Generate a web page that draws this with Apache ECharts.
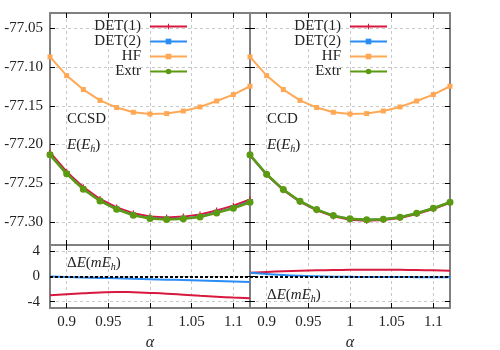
<!DOCTYPE html>
<html>
<head>
<meta charset="utf-8">
<script src="https://cdn.jsdelivr.net/npm/echarts@6/dist/echarts.min.js"></script>
<style>
  html, body { margin: 0; padding: 0; background: #fff; }
  #chart { width: 500px; height: 350px; }
</style>
</head>
<body>
<div id="chart"></div>
<script>
// alpha grid
const alpha = [0.88, 0.90, 0.92, 0.94, 0.96, 0.98, 1.00, 1.02, 1.04, 1.06, 1.08, 1.10, 1.12]
const xTicks = [0.9, 0.95, 1, 1.05, 1.1]
const eTicks = [-77.05, -77.10, -77.15, -77.20, -77.25, -77.30]
const dTicks = [-4, 0, 4]

// CCSD (left)
const ccsdHF = [-77.0868, -77.1110, -77.1290, -77.1430, -77.1523, -77.1584, -77.1606, -77.1601, -77.1567, -77.1515, -77.1438, -77.1355, -77.1247]
const ccsdExtr = [-77.2134, -77.2380, -77.2579, -77.2730, -77.2838, -77.2915, -77.2958, -77.2970, -77.2962, -77.2937, -77.2885, -77.2825, -77.2747]
const ccsdDet1 = [-77.2104, -77.2352, -77.2552, -77.2705, -77.2814, -77.2890, -77.2932, -77.2943, -77.2933, -77.2906, -77.2853, -77.2791, -77.2712]
const ccsdDet2 = [-77.2134, -77.2379, -77.2577, -77.2728, -77.2835, -77.2911, -77.2954, -77.2965, -77.2956, -77.2931, -77.2878, -77.2817, -77.2738]
const ccsdD1 = [-2.96, -2.80, -2.65, -2.52, -2.45, -2.50, -2.60, -2.72, -2.88, -3.05, -3.20, -3.35, -3.47]
const ccsdD2 = [0.0, -0.08, -0.15, -0.22, -0.29, -0.36, -0.43, -0.50, -0.57, -0.64, -0.71, -0.79, -0.88]

// CCD (right)
const ccdHF = [-77.0868, -77.1110, -77.1290, -77.1430, -77.1523, -77.1584, -77.1606, -77.1601, -77.1567, -77.1515, -77.1438, -77.1355, -77.1247]
const ccdExtr = [-77.2134, -77.2385, -77.2583, -77.2734, -77.2842, -77.2920, -77.2962, -77.2975, -77.2967, -77.2941, -77.2890, -77.2825, -77.2747]
const ccdDet1 = [-77.2140, -77.2392, -77.2591, -77.2743, -77.2852, -77.2930, -77.2973, -77.2986, -77.2978, -77.2952, -77.2900, -77.2835, -77.2756]
const ccdDet2 = [-77.2140, -77.2389, -77.2585, -77.2735, -77.2842, -77.2920, -77.2962, -77.2974, -77.2966, -77.2940, -77.2889, -77.2824, -77.2746]
const ccdD1 = [0.58, 0.72, 0.83, 0.92, 0.98, 1.03, 1.06, 1.08, 1.08, 1.06, 1.03, 0.98, 0.93]
const ccdD2 = [0.58, 0.40, 0.22, 0.10, 0.03, -0.02, -0.05, -0.07, -0.08, -0.09, -0.10, -0.10, -0.10]

const RED = '#d8183f'
const BLUE = '#2a8cf5'
const ORANGE = '#ffa957'
const GREEN = '#5c9a12'
const FONT = '"Liberation Serif", "DejaVu Serif", serif'
const FRAME = '#808080'

const pairs = (ys) => alpha.map((a, i) => [a, ys[i]])

const chart = echarts.init(document.getElementById('chart'))

const grids = [
  { left: 50, top: 13, width: 200, height: 232, outerBoundsMode: 'none' },
  { left: 250, top: 13, width: 200, height: 232, outerBoundsMode: 'none' },
  { left: 50, top: 245, width: 200, height: 63, outerBoundsMode: 'none' },
  { left: 250, top: 245, width: 200, height: 63, outerBoundsMode: 'none' }
]

const axisLine = { show: true, onZero: false, lineStyle: { color: FRAME, width: 2 } }
const tick = (vals) => ({ show: true, inside: true, length: 5, customValues: vals, lineStyle: { color: '#000', width: 1 } })
const grid = { show: true, lineStyle: { color: '#c8c8c8', type: [3, 3], width: 1 } }

const xAxis = []
const yAxis = []
grids.forEach((g, i) => {
  const bottomRow = i >= 2
  // bottom x
  xAxis.push({
    type: 'value', gridIndex: i, min: 0.88, max: 1.12, position: 'bottom',
    axisLine, axisTick: tick(xTicks), splitLine: grid,
    axisLabel: {
      show: bottomRow, customValues: xTicks, margin: 7,
      fontFamily: FONT, fontSize: 15, color: '#222',
      formatter: (v) => String(+v.toFixed(2))
    },
    name: bottomRow ? 'α' : '', nameLocation: 'middle', nameGap: 27,
    nameTextStyle: { fontFamily: FONT, fontSize: 16, fontStyle: 'italic', color: '#222' }
  })
  // top x mirror
  xAxis.push({
    type: 'value', gridIndex: i, min: 0.88, max: 1.12, position: 'top',
    axisLine, axisTick: tick(xTicks), splitLine: { show: false }, axisLabel: { show: false }
  })
  const isE = !bottomRow
  const vals = isE ? eTicks : dTicks
  yAxis.push({
    type: 'value', gridIndex: i, position: 'left',
    min: isE ? -77.33 : -5, max: isE ? -77.03 : 5,
    axisLine, axisTick: tick(vals), splitLine: grid,
    axisLabel: {
      show: i % 2 === 0, customValues: vals, margin: isE ? 7 : 10,
      fontFamily: FONT, fontSize: 15, color: '#222',
      formatter: (v) => isE ? v.toFixed(2) : String(Math.round(v))
    }
  })
  yAxis.push({
    type: 'value', gridIndex: i, position: 'right',
    min: isE ? -77.33 : -5, max: isE ? -77.03 : 5,
    axisLine, axisTick: tick(vals), splitLine: { show: false }, axisLabel: { show: false }
  })
})

const energySeries = (gi, det1, det2, hf, extr) => [
  {
    name: 'DET(1)', type: 'line', xAxisIndex: 2 * gi, yAxisIndex: 2 * gi, data: pairs(det1),
    color: RED, lineStyle: { width: 2 }, symbol: 'path://M4,0H6V4H10V6H6V10H4V6H0V4H4Z', symbolSize: 6, z: 3
  },
  {
    name: 'DET(2)', type: 'line', xAxisIndex: 2 * gi, yAxisIndex: 2 * gi, data: pairs(det2),
    color: BLUE, lineStyle: { width: 2 }, symbol: 'rect', symbolSize: 5, z: 3
  },
  {
    name: 'HF', type: 'line', xAxisIndex: 2 * gi, yAxisIndex: 2 * gi, data: pairs(hf),
    color: ORANGE, lineStyle: { width: 2 }, symbol: 'rect', symbolSize: 5, z: 3
  },
  {
    name: 'Extr', type: 'line', xAxisIndex: 2 * gi, yAxisIndex: 2 * gi, data: pairs(extr),
    color: GREEN, lineStyle: { width: 2.5 }, symbol: 'circle', symbolSize: 7, z: 4
  }
]

const deltaSeries = (gi, d1, d2) => [
  {
    name: 'DET(1)', type: 'line', xAxisIndex: 2 * gi, yAxisIndex: 2 * gi, data: pairs(d1),
    color: RED, lineStyle: { width: 2 }, showSymbol: false, smooth: true, z: 3
  },
  {
    name: 'DET(2)', type: 'line', xAxisIndex: 2 * gi, yAxisIndex: 2 * gi, data: pairs(d2),
    color: BLUE, lineStyle: { width: 2 }, showSymbol: false, smooth: true, z: 3,
    markLine: {
      silent: true, symbol: 'none', label: { show: false },
      lineStyle: { color: '#000', type: [3, 2], width: 2 },
      data: [{ yAxis: 0 }]
    }
  }
]

const series = [].concat(
  energySeries(0, ccsdDet1, ccsdDet2, ccsdHF, ccsdExtr),
  energySeries(1, ccdDet1, ccdDet2, ccdHF, ccdExtr),
  deltaSeries(2, ccsdD1, ccsdD2),
  deltaSeries(3, ccdD1, ccdD2)
)

const legend = (right) => ({
  orient: 'vertical', align: 'right', right, top: 14,
  itemWidth: 37, itemHeight: 7, itemGap: 0,
  data: ['DET(1)', 'DET(2)', 'HF', 'Extr'],
  selectedMode: false,
  textStyle: { fontFamily: FONT, fontSize: 15, lineHeight: 14.3, color: '#222', padding: [0, 4, 0, 0] }
})

const rich = {
  r: { fontFamily: FONT, fontSize: 15, color: '#222', lineHeight: 18 },
  i: { fontFamily: FONT, fontSize: 15, fontStyle: 'italic', color: '#222', lineHeight: 18 },
  s: { fontFamily: FONT, fontSize: 10, fontStyle: 'italic', color: '#222', lineHeight: 8, verticalAlign: 'bottom' }
}
const label = (x, y, text) => ({
  type: 'text', left: x, top: y, z: 10,
  style: { text, rich, fill: '#222', font: '15px ' + FONT }
})

chart.setOption({
  animation: false,
  grid: grids,
  xAxis,
  yAxis,
  legend: [legend(307), legend(107)],
  series,
  graphic: [
    label(67, 112, '{r|CCSD}'),
    label(67, 138, '{i|E}{r|(}{i|E}{s|h}{r|)}'),
    label(267, 112, '{r|CCD}'),
    label(267, 138, '{i|E}{r|(}{i|E}{s|h}{r|)}'),
    label(67, 256, '{r|Δ}{i|E}{r|(}{i|mE}{s|h}{r|)}'),
    label(267, 288, '{r|Δ}{i|E}{r|(}{i|mE}{s|h}{r|)}')
  ]
})
</script>
</body>
</html>
